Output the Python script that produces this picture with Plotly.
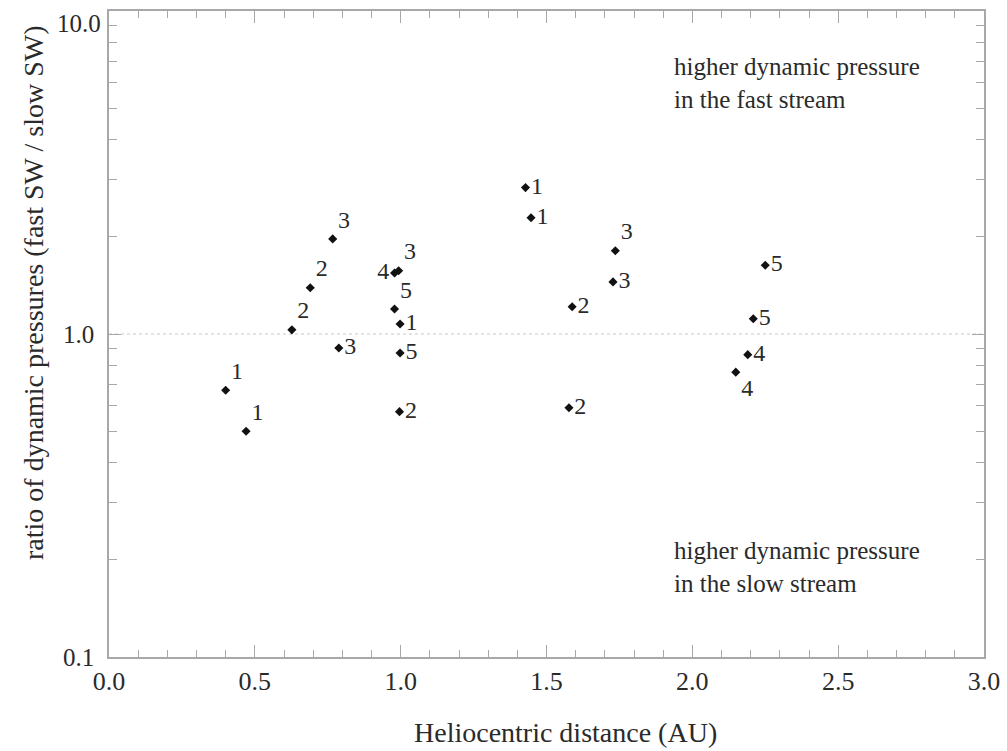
import plotly.graph_objects as go

# distance (AU), pressure ratio, case label
dist = [0.40, 0.47, 0.627, 0.69, 0.767, 0.788, 0.979, 0.993, 0.979, 0.998, 0.998, 0.996,
        1.428, 1.447, 1.736, 1.728, 1.588, 1.577, 2.25, 2.209, 2.19, 2.149]
ratio = [0.67, 0.50, 1.03, 1.39, 1.97, 0.905, 1.545, 1.57, 1.195, 1.074, 0.873, 0.575,
         2.84, 2.29, 1.81, 1.45, 1.215, 0.591, 1.633, 1.115, 0.863, 0.762]
labels = ["1", "1", "2", "2", "3", "3", "4", "3", "5", "1", "5", "2",
          "1", "1", "3", "3", "2", "2", "5", "5", "4", "4"]
label_pos = ["top right", "top right", "top right", "top right", "top right", "middle right",
             "middle left", "top right", "top right", "middle right", "middle right", "middle right",
             "middle right", "middle right", "top right", "middle right", "middle right", "middle right",
             "middle right", "middle right", "middle right", "bottom right"]

x_ticks = [0.0, 0.5, 1.0, 1.5, 2.0, 2.5, 3.0]
x_ticklabels = ["0.0", "0.5", "1.0", "1.5", "2.0", "2.5", "3.0"]
y_ticks = [0.1, 1.0, 10.0]
y_ticklabels = ["0.1", "1.0", "10.0"]
y_minor = [0.2, 0.3, 0.4, 0.5, 0.6, 0.7, 0.8, 0.9, 2, 3, 4, 5, 6, 7, 8, 9]

FONT = "Liberation Serif"
TXT = "#2a2a2a"
AX = "#a8a8a8"

W, H = 1007, 751
ML, MR, MT, MB = 109, 23, 11, 94
PW, PH = W - ML - MR, H - MT - MB


def px_to_paper(px, py):
    return (px - ML) / PW, (H - MB - py) / PH


fig = go.Figure()

# reference line at ratio 1
fig.add_shape(type="line", xref="x", yref="y", x0=0, x1=3, y0=1, y1=1,
              line=dict(color="#c8c8c8", width=1.2, dash="dot"), layer="below")

fig.add_trace(go.Scatter(
    x=dist, y=ratio, mode="markers+text", text=labels, textposition=label_pos,
    marker=dict(symbol="diamond", size=7, color="#111111"),
    textfont=dict(family=FONT, size=24, color=TXT),
    showlegend=False, cliponaxis=False,
))

fig.add_annotation(x=1.93, y=0.777, xref="x", yref="y", xanchor="left", yanchor="middle",
                   text="higher dynamic pressure<br>in the fast stream", showarrow=False, align="left",
                   font=dict(family=FONT, size=25, color=TXT))
fig.add_annotation(x=1.93, y=-0.721, xref="x", yref="y", xanchor="left", yanchor="middle",
                   text="higher dynamic pressure<br>in the slow stream", showarrow=False, align="left",
                   font=dict(family=FONT, size=25, color=TXT))

# axis titles placed as text
yx, yy = px_to_paper(33, 293)
fig.add_annotation(x=yx, y=yy, xref="paper", yref="paper", text="ratio of dynamic pressures (fast SW / slow SW)",
                   showarrow=False, textangle=-90, xanchor="center", yanchor="middle",
                   font=dict(family=FONT, size=28, color=TXT))
xx, xy = px_to_paper(565, 732)
fig.add_annotation(x=xx, y=xy, xref="paper", yref="paper", text="Heliocentric distance (AU)",
                   showarrow=False, xanchor="center", yanchor="middle",
                   font=dict(family=FONT, size=28, color=TXT))

# top y tick label drawn just below its tick so it stays inside the page
fig.add_annotation(x=0, y=1, xref="paper", yref="y", text=y_ticklabels[-1], showarrow=False,
                   xanchor="right", yanchor="top", xshift=-6, yshift=3,
                   font=dict(family=FONT, size=25, color=TXT))

fig.update_xaxes(
    range=[0, 3], tickvals=x_ticks, ticktext=x_ticklabels,
    showline=True, linecolor=AX, linewidth=1.5, mirror="ticks",
    ticks="inside", ticklen=12, tickcolor=AX, tickwidth=1,
    minor=dict(dtick=0.1, ticks="inside", ticklen=7, tickcolor=AX, tickwidth=1, showgrid=False),
    showgrid=False, zeroline=False, automargin=False, ticklabeloverflow="allow",
    tickfont=dict(family=FONT, size=26, color=TXT),
)
fig.update_yaxes(
    type="log", range=[-1, 1], tickvals=y_ticks, ticktext=y_ticklabels[:-1] + [""],
    showline=True, linecolor=AX, linewidth=1.5, mirror="ticks",
    ticks="inside", ticklen=12, tickcolor=AX, tickwidth=1,
    minor=dict(tickvals=y_minor, ticks="inside", ticklen=8, tickcolor=AX, tickwidth=1, showgrid=False),
    showgrid=False, zeroline=False, automargin=False, ticklabeloverflow="allow",
    ticklabelstandoff=8,
    tickfont=dict(family=FONT, size=25, color=TXT),
)

fig.update_layout(
    width=W, height=H,
    margin=dict(l=ML, r=MR, t=MT, b=MB),
    paper_bgcolor="white", plot_bgcolor="white",
)

fig.write_html("out.html")
